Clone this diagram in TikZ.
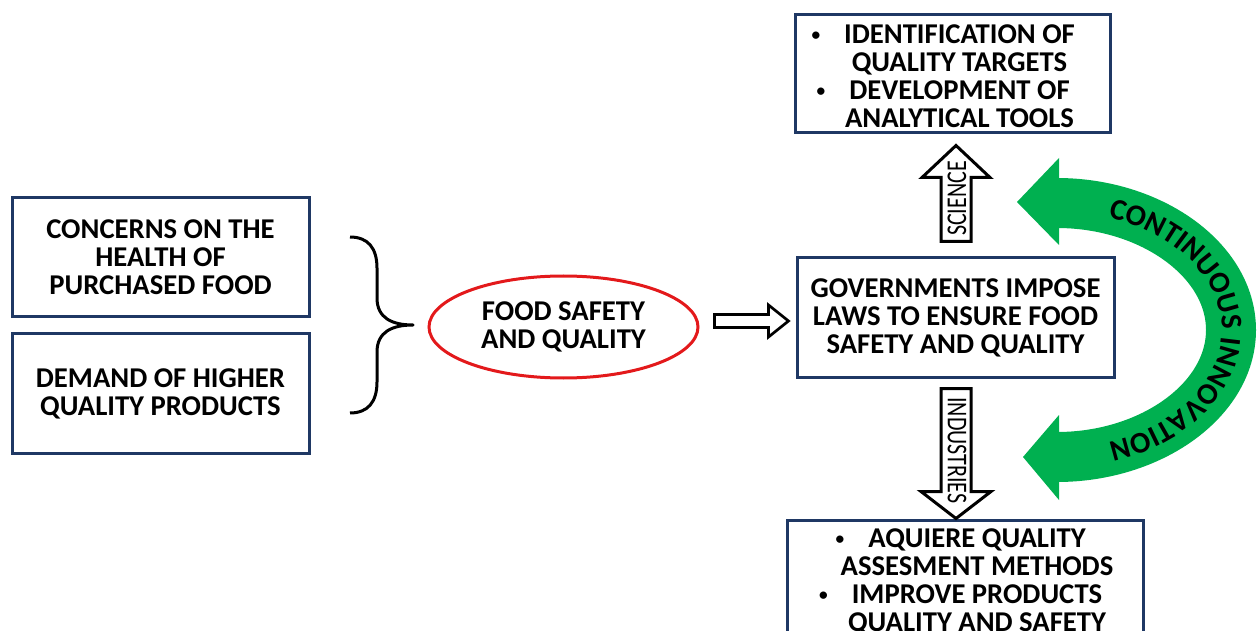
\documentclass[tikz,border=0pt]{standalone}
\usepackage{graphicx}
\usepackage{fontspec}
\setmainfont{Carlito}
\usetikzlibrary{shapes.geometric,decorations.text,calc}
\definecolor{navy}{HTML}{1F3864}
\definecolor{igreen}{HTML}{00B050}
\definecolor{ired}{HTML}{E3191B}
\newcommand\bodyfont{\fontsize{21.5}{21}\selectfont\bfseries}
\newcommand\arcfont{\fontsize{22.5}{22}\selectfont\bfseries}
\newcommand\lblfont{\fontsize{16.5}{16.5}\selectfont}
\newcommand\bul{\llap{\raisebox{2.6pt}{\fontsize{13}{13}\selectfont\textbullet}\hspace{18pt}}}
\begin{document}
\begin{tikzpicture}[x=0.75pt,y=-0.75pt,
  box/.style={draw=navy, line width=2.25pt, fill=white, inner sep=0pt, align=center, font=\bodyfont},
  hollow/.style={draw=black, line width=2.25pt, fill=white, line join=miter},
  lbl/.style={inner sep=0pt, font=\lblfont},
]
\clip (0,0) rectangle (1258,631);
% boxes
\node[box, minimum width=222.75pt, minimum height=89.25pt] (c1) at (160.5,257.5) {CONCERNS ON THE\\HEALTH OF\\PURCHASED FOOD};
\node[box, minimum width=222.75pt, minimum height=89.25pt] (c2) at (160.5,393.5) {DEMAND OF HIGHER\\QUALITY PRODUCTS};
\node[draw=ired, line width=2.25pt, shape=ellipse, minimum width=201.75pt, minimum height=76.5pt, inner sep=0pt, align=center, font=\bodyfont] (ell) at (563.5,327) {FOOD SAFETY\\AND QUALITY};
\node[box, minimum width=237.75pt, minimum height=89.25pt] (gov) at (955.5,317.5) {GOVERNMENTS IMPOSE\\LAWS TO ENSURE FOOD\\SAFETY AND QUALITY};
\node[box, minimum width=236.25pt, minimum height=88.5pt] (top) at (952.5,74) {\hspace*{10.5pt}\raisebox{0pt}[\height][\dimexpr\depth-9pt\relax]{\begin{tabular}{@{}c@{}}\bul IDENTIFICATION OF\\QUALITY TARGETS\\\bul DEVELOPMENT OF\\ANALYTICAL TOOLS\end{tabular}}};
\node[box, minimum width=267pt, minimum height=90pt] (bot) at (965,580) {\hspace*{18pt}\raisebox{0pt}[\height][\dimexpr\depth-6pt\relax]{\begin{tabular}{@{}c@{}}\bul AQUIERE QUALITY\\ASSESMENT METHODS\\\bul IMPROVE PRODUCTS\\QUALITY AND SAFETY\end{tabular}}};
% brace
\coordinate (bt) at (350,237);
\coordinate (bb) at (350,413);
\coordinate (btip) at (413,325);
\draw[line width=2.25pt, line join=round] (bt) .. controls (368,237) and (377,248) .. (377,268) -- (377,298) .. controls (377,318) and (392,325) .. (btip) .. controls (392,325) and (377,332) .. (377,352) -- (377,382) .. controls (377,402) and (368,413) .. (bb);
% hollow block arrows (connectors)
\coordinate (raT) at ($(ell.east)+(15,-6)$);
\draw[hollow, line width=2pt] (raT) ++(0,-6.5) -- ++(54,0) -- ++(0,-9.5) -- ++(20,16) -- ++(-20,16) -- ++(0,-9.5) -- ++(-54,0) -- cycle;
\coordinate (sciT) at ($(gov.north)+(0.5,-15)$);
\draw[hollow] (sciT) ++(-15,0) -- ++(0,-64) -- ++(-19,0) -- ++(34,-32) -- ++(34,32) -- ++(-19,0) -- ++(0,64) -- cycle;
\node[lbl, rotate=90] (scil) at ($(sciT)+(1,-43)$) {\scalebox{1}[1.3]{SCIENCE}};
\coordinate (indT) at ($(gov.south)+(0.5,10)$);
\draw[hollow] (indT) ++(-15,0) -- ++(0,103) -- ++(-20,0) -- ++(35,27) -- ++(35,-27) -- ++(-20,0) -- ++(0,-103) -- cycle;
\node[lbl, rotate=-90] (indl) at ($(indT)+(1,62)$) {\scalebox{1}[1.3]{INDUSTRIES}};
% green continuous innovation arrow
\draw[igreen, line width=37.5pt] (1057,203) .. controls (1151,203) and (1231,260) .. (1231,330) .. controls (1231,400) and (1151,457) .. (1057,457);
\fill[igreen] (1059,158) -- (1017,202) -- (1059,245) -- cycle;
\fill[igreen] (1059,415) -- (1023,457) -- (1059,500) -- cycle;
\path[decorate, decoration={text along path, text align=center, text={|\arcfont|CONTINUOUS INNOVATION}}] (1060,212) .. controls (1149.5,212) and (1222,265) .. (1222,330) .. controls (1222,395) and (1149.5,448) .. (1060,448);
\end{tikzpicture}
\end{document}
